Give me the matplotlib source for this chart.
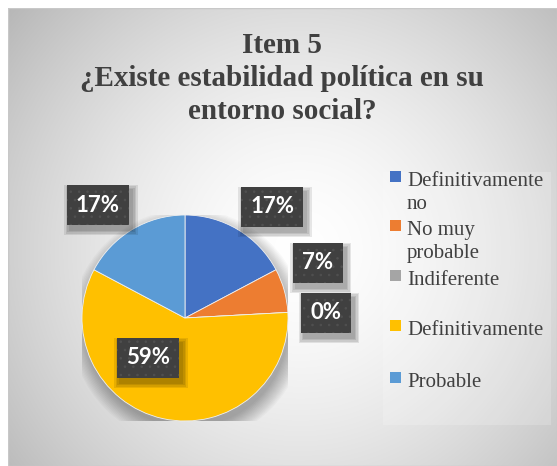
import numpy as np
from matplotlib import pyplot as plt
from matplotlib.patches import Rectangle, Circle
from matplotlib.transforms import IdentityTransform

plt.rcParams["hatch.linewidth"] = 0.6

# chart data
title_lines = ["Item 5", "¿Existe estabilidad política en su", "entorno social?"]
categories = ["Definitivamente\nno", "No muy\nprobable", "Indiferente", "Definitivamente", "Probable"]
counts = [5, 2, 0, 17, 5]
colors = ["#4472C4", "#ED7D31", "#A5A5A5", "#FFC000", "#5B9BD5"]

# label placement (data units of the pie axes) and legend rows (pixels from top)
label_pos = [(0.845, 1.078), (1.29, 0.534), (1.37, 0.049), (-0.36, -0.388), (-0.845, 1.097)]
legend_rows = [186, 235, 285, 335, 387]

W, H = 557, 466
fig = plt.figure(figsize=(W / 100, H / 100), dpi=100)
fig.patch.set_facecolor("white")

# background with radial gradient
bg = fig.add_axes([8 / W, 0, (W - 8) / W, (H - 8) / H])
yy, xx = np.mgrid[8:H, 8:W]
d = np.hypot(xx - 300, yy - 250) / 360.0
v = 1.0 - 0.26 * np.clip(d, 0, 1.2) ** 1.6
bg.imshow(np.dstack([v, v, v]), extent=[0, 1, 0, 1], aspect="auto", origin="upper")
bg.set_xlim(0, 1)
bg.set_ylim(0, 1)
bg.axis("off")
bg.add_patch(Rectangle((0, 0), 1, 1, fill=False, edgecolor="#c8c8c8", lw=1))
# legend area, a bit lighter
bg.add_patch(Rectangle((375 / (W - 8), 41 / (H - 8)), 168 / (W - 8), 253 / (H - 8),
                       fc="white", alpha=0.18, ec="none"))

# title, one line at a time
for i, line in enumerate(title_lines):
    fig.text(282 / W, 1 - (53 + 33 * i) / H, line, ha="center", va="baseline",
             fontsize=21, fontweight="bold", family="Liberation Serif", color="#404040")

# pie axes
cx, cy, r = 185, 318, 103
ax = fig.add_axes([(cx - r) / W, (H - cy - r) / H, 2 * r / W, 2 * r / H])
ax.axis("off")

# soft shadow under the pie
for k in range(14):
    ax.add_patch(Circle((0.03, -0.08), 0.98 + k * 0.012, color="black", alpha=0.022, lw=0, zorder=0))

ax.pie(counts, colors=colors, startangle=90, counterclock=False, radius=1.0,
       wedgeprops=dict(linewidth=0.6, edgecolor="#f0f0f0"), normalize=True)
ax.set_xlim(-1, 1)
ax.set_ylim(-1, 1)

total = sum(counts)
labels = []
for (lx, ly), c in zip(label_pos, counts):
    pct = "%d%%" % round(100.0 * c / total)
    t = ax.text(lx, ly, pct, ha="center", va="center", fontsize=16, fontweight="bold",
                family="Lato", color="white", zorder=5, clip_on=False,
                bbox=dict(boxstyle="square,pad=0.42", fc="#404040", ec="#505050",
                          hatch="..", lw=0))
    labels.append(t)

# shadows behind the label boxes
fig.canvas.draw()
rend = fig.canvas.get_renderer()
for t in labels:
    bb = t.get_bbox_patch().get_window_extent(rend)
    for k in range(4):
        g = 1 + k * 1.5
        ax.add_patch(Rectangle((bb.x0 + 3 - g, bb.y0 - 5 - g), bb.width + 2 * g, bb.height + 2 * g,
                               transform=IdentityTransform(), fc="black", alpha=0.09,
                               ec="none", zorder=4, clip_on=False))

# legend
for lab, col, yb in zip(categories, colors, legend_rows):
    fig.patches.append(Rectangle((390 / W, 1 - (yb - 4) / H), 11 / W, 11 / H,
                                 transform=fig.transFigure, fc=col, ec="none"))
    for i, line in enumerate(lab.split("\n")):
        fig.text(407 / W, 1 - (yb + 23 * i) / H, line, ha="left", va="baseline",
                 fontsize=15, family="Liberation Serif", color="#404040")

fig.savefig("out.png", dpi=100)
